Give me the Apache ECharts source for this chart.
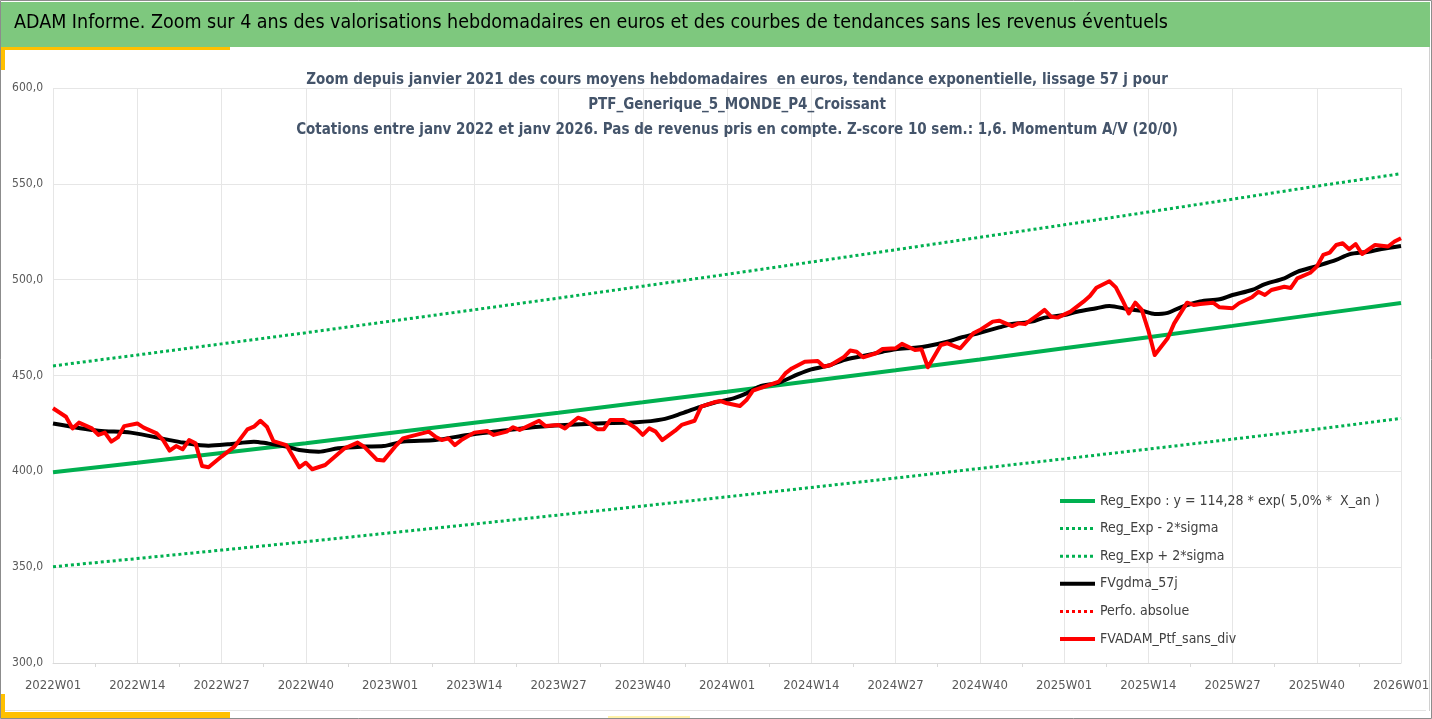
<!DOCTYPE html>
<html>
<head>
<meta charset="utf-8">
<title>ADAM Informe - PTF_Generique_5_MONDE_P4_Croissant</title>
<script src="https://cdn.jsdelivr.net/npm/echarts/dist/echarts.min.js"></script>
<style>
    html, body { margin: 0; padding: 0; background: #fff; }
    #main { width: 1432px; height: 719px; }
</style>
</head>
<body>
<div id="main"></div>
<script type="text/javascript">

    // étiquettes de l'axe des semaines (une toutes les 13 semaines)
    var weekLabels = ['2022W01', '2022W14', '2022W27', '2022W40',
        '2023W01', '2023W14', '2023W27', '2023W40',
        '2024W01', '2024W14', '2024W27', '2024W40',
        '2025W01', '2025W14', '2025W27', '2025W40', '2026W01'];

    // régression exponentielle et bandes +/- 2 sigma, lues à chaque étiquette
    var regExpo = [399.5, 404.5, 409.6, 414.7, 420.0, 425.3, 430.6, 436.0, 441.5,
        447.1, 452.7, 458.4, 464.2, 470.0, 475.9, 481.9, 487.8];
    var regMinus = [350.2, 354.5, 358.9, 363.3, 367.9, 372.5, 377.2, 381.9, 386.7,
        391.6, 396.5, 401.5, 406.5, 411.6, 416.8, 422.0, 427.6];
    var regPlus = [455.0, 460.7, 466.5, 472.3, 478.3, 484.3, 490.4, 496.6, 502.8,
        509.2, 515.6, 522.1, 528.6, 535.3, 542.0, 548.8, 555.3];

    // moyenne mobile 57 j : [semaine, valeur]
    var fvgdma = [[0, 425], [7, 421.2], [12, 420.2], [18, 416.3], [20, 415], [24, 413.4],
        [27, 414.1], [31, 415.5], [33, 414.6], [36, 412.9], [38, 411.1], [41, 410.2],
        [44, 412], [48, 412.9], [51, 413.2], [54, 415.5], [59, 416.3], [64, 419],
        [69, 421], [74, 423], [79, 424.2], [84, 425], [90, 425.6], [94, 427.1],
        [97, 430.2], [100, 433.8], [102, 435.8], [105, 438.1], [107, 440.7], [109, 444.2],
        [112, 446.3], [115, 450.7], [117, 453.2], [120, 455.5], [122, 458.1], [125, 460.2],
        [128, 462.4], [130, 463.7], [133, 464.5], [135, 465.4], [138, 467.6], [140, 469.7],
        [143, 472.3], [146, 475.1], [148, 476.9], [151, 478.1], [153, 480.2], [156, 481.6],
        [158, 483.3], [161, 485.1], [163, 486.3], [166, 484.5], [168, 483.8], [170, 482.1],
        [172, 482.7], [174, 485.6], [177, 488.6], [180, 489.8], [182, 492], [185, 494.6],
        [187, 497.7], [190, 500.7], [192, 504.1], [195, 507.1], [198, 510.3], [200, 513.2],
        [203, 514.6], [205, 516], [208, 517.6]];

    // cours hebdomadaires du portefeuille sans dividendes : [semaine, valeur]
    var fvadam = [[0, 432.9], [2, 428.5], [3, 422.4], [4, 425.4], [6, 422.4], [7, 419],
        [8, 420.2], [9, 415.5], [10, 417.7], [11, 423.6], [13, 425], [14, 422.8],
        [16, 419.8], [17, 416.3], [18, 410.8], [19, 413.2], [20, 411.5], [21, 416.3],
        [22, 414.6], [23, 402.8], [24, 402.1], [26, 407.7], [28, 412.9], [30, 421.9],
        [31, 423.3], [32, 426.4], [33, 423.3], [34, 415.8], [36, 413.7], [38, 402.1],
        [39, 404.5], [40, 401.1], [42, 403.3], [45, 412], [47, 415], [48, 412.9],
        [50, 406], [51, 405.6], [53, 413.7], [54, 417.2], [55, 418.1], [58, 420.7],
        [59, 418.1], [60, 416.3], [61, 417.2], [62, 413.7], [63, 416.3], [65, 420.2],
        [67, 421], [68, 419], [70, 420.7], [71, 423], [72, 421.6], [75, 426.4],
        [76, 423.6], [78, 424.2], [79, 422.4], [81, 428], [82, 426.8], [84, 422],
        [85, 422], [86, 426.8], [88, 426.8], [90, 422.4], [91, 419], [92, 422.4],
        [93, 420.7], [94, 416.3], [96, 421.2], [97, 424.2], [99, 426.4], [100, 433.8],
        [102, 436], [103, 436.7], [104, 435.5], [106, 434.1], [107, 437.2], [108, 442.1],
        [110, 444.5], [112, 446.8], [113, 451.1], [114, 453.7], [116, 457.2], [118, 457.6],
        [119, 454.6], [120, 455.5], [122, 459.5], [123, 463], [124, 462.4], [125, 459.5],
        [127, 461.6], [128, 463.8], [130, 464.2], [131, 466.5], [133, 463.3], [134, 463.7],
        [135, 454.3], [137, 465.9], [138, 466.8], [140, 464.2], [142, 472], [143, 473.7],
        [145, 478.1], [146, 478.6], [148, 475.8], [149, 477.2], [150, 476.8], [152, 481.6],
        [153, 484.2], [154, 480.7], [155, 480.2], [157, 483.3], [159, 488.5], [160, 491.5],
        [161, 495.8], [163, 499.2], [164, 496], [165, 489.4], [166, 482.4], [167, 488],
        [168, 484.2], [169, 473.7], [170, 460.7], [172, 469.4], [173, 477.2], [175, 488],
        [176, 486.8], [177, 487.3], [179, 488], [180, 485.6], [182, 485.1], [183, 487.7],
        [185, 490.8], [186, 493.7], [187, 492], [188, 494.6], [190, 496.3], [191, 495.7],
        [192, 500.7], [194, 503.6], [195, 506.8], [196, 512.9], [197, 514.1], [198, 518.1],
        [199, 519], [200, 515.9], [201, 518.6], [202, 513.4], [204, 518.1], [206, 517.3],
        [207, 519.9], [208, 521.6]];

    var STEP = 13;
    var FONT = "'DejaVu Sans Condensed', 'DejaVu Sans', sans-serif";
    var DOTS = [3, 3];

    var N_EXPO = 'Reg_Expo : y = 114,28 * exp( 5,0% *  X_an )';
    var N_MINUS = 'Reg_Exp - 2*sigma';
    var N_PLUS = 'Reg_Exp + 2*sigma';
    var N_GDMA = 'FVgdma_57j';
    var N_PERF = 'Perfo. absolue';
    var N_PTF = 'FVADAM_Ptf_sans_div';

    function atLabels(arr) {
        return arr.map(function (v, i) { return [i * STEP, v]; });
    }

    var myChart = echarts.init(document.getElementById('main'), null, {renderer: 'canvas'});

    var option = {
        backgroundColor: '#ffffff',
        animation: false,
        textStyle: {fontFamily: FONT},
        graphic: [
            // cadre
            {type: 'rect', shape: {x: 0.5, y: 0.5, width: 1431, height: 718},
                style: {fill: 'none', stroke: '#8c8c8c', lineWidth: 1}, z: 100},
            // bandeau vert
            {type: 'rect', shape: {x: 1, y: 2, width: 1429, height: 45},
                style: {fill: '#7ec87e'}, z: 0},
            {type: 'text', left: 14, top: 13, z: 10,
                style: {text: 'ADAM Informe. Zoom sur 4 ans des valorisations hebdomadaires en euros et des courbes de tendances sans les revenus éventuels',
                    fontSize: 19.5, fontFamily: FONT, fill: '#000000'}},
            // liserés jaunes
            {type: 'rect', shape: {x: 1, y: 47, width: 229, height: 3}, style: {fill: '#ffc000'}},
            {type: 'rect', shape: {x: 1, y: 47, width: 4, height: 23}, style: {fill: '#ffc000'}},
            {type: 'rect', shape: {x: 1, y: 712, width: 229, height: 6}, style: {fill: '#ffc000'}},
            {type: 'rect', shape: {x: 1, y: 694, width: 4, height: 24}, style: {fill: '#ffc000'}},
            {type: 'rect', shape: {x: 608, y: 716, width: 82, height: 2}, style: {fill: '#fff2a8'}},
            {type: 'line', shape: {x1: 5, y1: 710.5, x2: 1426, y2: 710.5},
                style: {stroke: '#e3e3e3', lineWidth: 1}},
            {type: 'line', shape: {x1: 1429.5, y1: 47, x2: 1429.5, y2: 711},
                style: {stroke: '#d0d0d0', lineWidth: 1}}
        ],
        title: {
            text: 'Zoom depuis janvier 2021 des cours moyens hebdomadaires  en euros, tendance exponentielle, lissage 57 j pour\n' +
                'PTF_Generique_5_MONDE_P4_Croissant\n' +
                'Cotations entre janv 2022 et janv 2026. Pas de revenus pris en compte. Z-score 10 sem.: 1,6. Momentum A/V (20/0)',
            left: 732,
            top: 63,
            textAlign: 'center',
            textStyle: {
                fontFamily: FONT,
                fontSize: 15,
                fontWeight: 'bold',
                color: '#44546a',
                lineHeight: 25
            }
        },
        legend: {
            orient: 'vertical',
            left: 1053,
            top: 489,
            itemWidth: 35,
            itemHeight: 14,
            itemGap: 13.6,
            itemStyle: {opacity: 0},
            textStyle: {fontFamily: FONT, fontSize: 14, color: '#404040'},
            data: [
                {name: N_EXPO, lineStyle: {width: 4}},
                {name: N_MINUS, lineStyle: {width: 3}},
                {name: N_PLUS, lineStyle: {width: 3}},
                {name: N_GDMA, lineStyle: {width: 4}},
                {name: N_PERF, lineStyle: {width: 3}},
                {name: N_PTF, lineStyle: {width: 4}}
            ]
        },
        grid: {left: 53, right: 31, top: 88, bottom: 56, containLabel: false, outerBoundsMode: 'none'},
        xAxis: {
            type: 'value',
            min: 0,
            max: (weekLabels.length - 1) * STEP,
            interval: STEP,
            axisLine: {show: true, lineStyle: {color: '#d9d9d9', width: 1}},
            axisTick: {show: false},
            minorTick: {show: true, splitNumber: 2, length: 4, lineStyle: {color: '#d9d9d9'}},
            splitLine: {show: true, lineStyle: {color: '#e6e6e6', width: 1}},
            axisLabel: {
                margin: 16,
                fontFamily: FONT,
                fontSize: 13,
                color: '#595959',
                formatter: function (v) { return weekLabels[Math.round(v / STEP)] || ''; }
            }
        },
        yAxis: {
            type: 'value',
            min: 300,
            max: 600,
            interval: 50,
            axisLine: {show: false},
            axisTick: {show: false},
            splitLine: {show: true, lineStyle: {color: '#e6e6e6', width: 1}},
            axisLabel: {
                margin: 10,
                fontFamily: FONT,
                fontSize: 12,
                color: '#595959',
                formatter: function (v) { return v.toFixed(1).replace('.', ','); }
            }
        },
        series: [
            {
                name: N_EXPO,
                type: 'line', symbol: 'none', z: 3,
                color: '#00b050',
                lineStyle: {color: '#00b050', width: 4},
                data: atLabels(regExpo)
            },
            {
                name: N_MINUS,
                type: 'line', symbol: 'none', z: 2,
                color: '#00b050',
                lineStyle: {color: '#00b050', width: 3, type: DOTS},
                data: atLabels(regMinus)
            },
            {
                name: N_PLUS,
                type: 'line', symbol: 'none', z: 2,
                color: '#00b050',
                lineStyle: {color: '#00b050', width: 3, type: DOTS},
                data: atLabels(regPlus)
            },
            {
                name: N_GDMA,
                type: 'line', symbol: 'none', z: 4,
                smooth: 0.3,
                color: '#000000',
                lineStyle: {color: '#000000', width: 4},
                data: fvgdma
            },
            {
                name: N_PERF,
                type: 'line', symbol: 'none', z: 4,
                color: '#ff0000',
                lineStyle: {color: '#ff0000', width: 3, type: DOTS},
                data: []
            },
            {
                name: N_PTF,
                type: 'line', symbol: 'none', z: 5,
                color: '#ff0000',
                lineStyle: {color: '#ff0000', width: 4, join: 'round'},
                data: fvadam
            }
        ]
    };

    myChart.setOption(option);

</script>
</body>
</html>
